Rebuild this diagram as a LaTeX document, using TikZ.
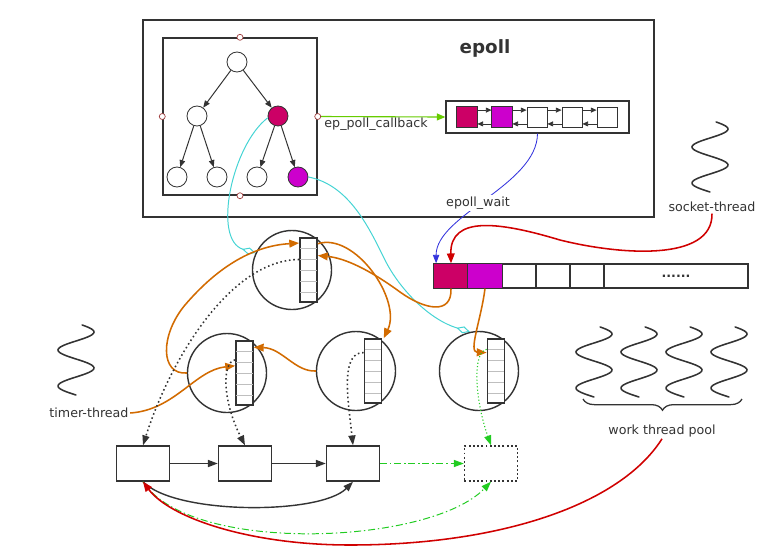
\documentclass[tikz,border=0pt]{standalone}
\usepackage{fontspec}
\setmainfont{DejaVu Sans}
\usetikzlibrary{arrows.meta,calc,decorations.pathreplacing}

\definecolor{ink}{HTML}{333333}
\definecolor{crim}{HTML}{CC0066}
\definecolor{mag}{HTML}{CC00CC}
\definecolor{orng}{HTML}{D26B00}
\definecolor{dred}{HTML}{D00000}
\definecolor{cbg}{HTML}{66CC00}
\definecolor{ltg}{HTML}{22CC22}
\definecolor{cyn}{HTML}{44D4D4}
\definecolor{blu}{HTML}{3333DD}
\definecolor{hdl}{HTML}{A04040}

\tikzset{
  treenode/.style={circle,draw=ink,line width=0.6pt,minimum size=0.5cm,inner sep=0pt,fill=white},
  handle/.style={circle,draw=hdl,fill=white,line width=0.5pt,minimum size=0.15cm,inner sep=0pt},
  rcell/.style={rectangle,draw=ink,line width=0.6pt,minimum size=0.5cm,inner sep=0pt},
  qcell/.style={rectangle,draw=ink,line width=1pt,minimum width=0.85cm,minimum height=0.6cm,inner sep=0pt},
  conn/.style={circle,draw=ink,line width=1pt,minimum size=1.975cm,inner sep=0pt},
  buf/.style={rectangle,draw=ink,line width=1.2pt,minimum width=0.425cm,minimum height=1.6cm,inner sep=0pt,fill=white},
  task/.style={rectangle,draw=ink,line width=1pt,minimum width=1.325cm,minimum height=0.875cm,inner sep=0pt},
  lbl/.style={text=ink,font=\fontsize{9}{10}\selectfont,inner sep=1pt},
  tarr/.style={ink,line width=0.7pt,-{Triangle[length=5pt,width=4pt]}},
  lk/.style={ink,line width=0.5pt,-{Triangle[length=4pt,width=3.5pt]}},
  oarr/.style={orng,line width=1.1pt,-{Triangle[length=7pt,width=5.5pt]}},
  karr/.style={ink,line width=1pt,-{Triangle[length=7pt,width=5pt]}},
  dots/.style={ink,line width=1.1pt,dash pattern=on 1.1pt off 2pt,-{Triangle[length=7pt,width=5pt]}},
  gdots/.style={ltg,line width=0.8pt,dash pattern=on 0.8pt off 1.6pt,-{Triangle[length=7pt,width=5pt]}},
  gdash/.style={ltg,line width=0.7pt,dash pattern=on 5pt off 2pt on 1pt off 2pt,-{Triangle[length=7pt,width=5pt]}},
  rarr/.style={dred,line width=1.1pt,-{Triangle[length=7pt,width=5.5pt]}},
  cyanline/.style={cyn,line width=0.7pt,-{Diamond[open,length=10pt,width=5pt]}},
  wave/.style={ink,line width=1.1pt,line cap=round}
}
\newcommand{\wavethread}[2]{\draw[wave] plot[variable=\t,domain=0:70,samples=60,smooth] ({#1+18*cos(10*(\t-7))},{#2+\t});}

\begin{document}
\begin{tikzpicture}[x=0.025cm,y=-0.025cm]
  \fill[white] (0,0) rectangle (759,549);
  \useasboundingbox (0,0) rectangle (759,549);

  \node[draw=ink,line width=1pt,minimum width=12.775cm,minimum height=4.925cm] (ep) at (398.5,118.5) {};
  \node[text=ink,font=\bfseries\fontsize{13}{15}\selectfont] (eplbl) at (485,48) {epoll};

  \node[draw=ink,line width=1pt,minimum width=3.85cm,minimum height=3.925cm] (tbox) at (240,116.5) {};
  \node[treenode] (rt) at (237,62) {};
  \node[treenode] (l1) at (197,116) {};
  \node[treenode,fill=crim] (l2) at (278,116) {};
  \node[treenode] (m1) at (177,177) {};
  \node[treenode] (m2) at (217,177) {};
  \node[treenode] (m3) at (257,177) {};
  \node[treenode,fill=mag] (m4) at (298,177) {};
  \foreach \p/\c in {rt/l1,rt/l2,l1/m1,l1/m2,l2/m3,l2/m4} \draw[tarr] (\p) -- (\c);

  \node[draw=ink,line width=1pt,minimum width=4.575cm,minimum height=0.8cm] (rbox) at (537.5,117) {};
  \foreach \i in {1,...,5} \node[rcell] (r\i) at ({467+35*(\i-1)},117) {};
  \path[fill=crim,draw=ink,line width=0.6pt] (r1.north west) rectangle (r1.south east);
  \path[fill=mag,draw=ink,line width=0.6pt] (r2.north west) rectangle (r2.south east);
  \foreach \i/\j in {1/2,2/3,3/4,4/5} {
    \draw[lk] ([yshift=-2.5pt]r\i.north east) -- ([yshift=-2.5pt]r\j.north west);
    \draw[lk] ([yshift=2.5pt]r\j.south west) -- ([yshift=2.5pt]r\i.south east);
  }

  \draw[cbg,line width=0.8pt,-{Triangle[length=6pt,width=5pt]}] (tbox.east) -- (rbox.west);
  \node[lbl] (cblbl) at (376,124) {ep\_poll\_callback};
  \foreach \a in {north,south,east,west} \node[handle] at (tbox.\a) {};

  \foreach \i in {1,...,5} \node[qcell] (q\i) at ({451+34*(\i-1)},276) {};
  \path[fill=crim,draw=ink,line width=1pt] (q1.north west) rectangle (q1.south east);
  \path[fill=mag,draw=ink,line width=1pt] (q2.north west) rectangle (q2.south east);
  \node[qcell,minimum width=3.6cm,font=\bfseries\fontsize{9}{10}\selectfont,text=ink] (qd) at (676,276) {......};

  \draw[blu,line width=0.6pt,-{Triangle[length=6pt,width=4.5pt]}] (rbox.south) .. controls (537,185) and (436,215) .. ([xshift=2pt]q1.north west);
  \node[lbl,fill=white] (wlbl) at (478,203) {epoll\_wait};

  \wavethread{710}{122}
  \node[lbl] (sock) at (712,207) {socket-thread};
  \draw[rarr] (sock.south) .. controls (713,262) and (620,255) .. (560,240) .. controls (500,222) and (450,215) .. (q1.north);

  \node[conn] (cA) at (292,270) {};
  \node[conn] (cB) at (227,373) {};
  \node[conn] (cC) at (356,371) {};
  \node[conn] (cD) at (479,371) {};
  \node[buf] (fA) at (308.5,270) {};
  \node[buf] (fB) at (244.5,373) {};
  \node[buf] (fC) at (373,371) {};
  \node[buf] (fD) at (496,371) {};
  \foreach \b in {fA,fB,fC,fD} \foreach \k in {1,...,5}
    \draw[black!25,line width=0.5pt] ($(\b.north west)!\k/6!(\b.south west)+(1,0)$) -- ($(\b.north east)!\k/6!(\b.south east)+(-1,0)$);

  \draw[cyanline] (l2.190) .. controls (232,145) and (212,240) .. (cA.155);
  \draw[cyanline] (m4.east) .. controls (350,185) and (370,230) .. (385,260) .. controls (400,290) and (430,320) .. (cD.103);

  \wavethread{76}{325}
  \node[lbl] (timer) at (89,413) {timer-thread};
  \foreach \cx in {594,639,684,729} {\wavethread{\cx}{327}}
  \draw[ink,line width=0.9pt,decorate,decoration={brace,mirror,amplitude=8pt}] (583,399) -- (742,399);
  \node[lbl] (pool) at (662,431) {work thread pool};

  \node[task] (k1) at (143,463.5) {};
  \node[task] (k2) at (245,463.5) {};
  \node[task] (k3) at (353,463.5) {};
  \node[task,draw=ink,dash pattern=on 1.3pt off 1.7pt] (k4) at (491,463.5) {};

  \draw[oarr] (q1.south) .. controls (452,315) and (425,310) .. (400,292) .. controls (370,270) and (345,258) .. ($(fA.north east)!0.28!(fA.south east)$);
  \draw[oarr] (q2.south) .. controls (481,320) and (468,352) .. ($(fD.north west)!0.22!(fD.south west)$);
  \draw[oarr] ($(fA.north east)!0.1!(fA.south east)$) .. controls (355,232) and (402,300) .. ([xshift=1pt]fC.north east);
  \draw[oarr] (cC.west) .. controls (295,372) and (282,348) .. ($(fB.north east)!0.11!(fB.south east)$);
  \draw[oarr] (cB.west) .. controls (160,375) and (160,335) .. (185,305) .. controls (215,270) and (250,246) .. ($(fA.north west)!0.09!(fA.south west)$);
  \draw[oarr] (timer.east) .. controls (175,410) and (195,370) .. ($(fB.north west)!0.39!(fB.south west)$);

  \draw[dots] ($(fA.north west)!0.34!(fA.south west)$) .. controls (230,260) and (170,360) .. (k1.north);
  \draw[dots] ($(fB.north west)!0.3!(fB.south west)$) .. controls (222,362) and (222,400) .. (k2.north);
  \draw[dots] ($(fC.north west)!0.22!(fC.south west)$) .. controls (340,352) and (348,400) .. (k3.north);
  \draw[gdots] ($(fD.north west)!0.17!(fD.south west)$) .. controls (472,352) and (475,400) .. (k4.north);

  \draw[karr] (k1) -- (k2);
  \draw[karr] (k2) -- (k3);
  \draw[gdash] (k3) -- (k4);
  \draw[karr] (k1.south) .. controls (175,515) and (320,515) .. (k3.south);
  \draw[gdash] (k1.south) .. controls (190,555) and (430,545) .. (k4.south);
  \draw[rarr] (pool.south) .. controls (620,505) and (500,545) .. (350,545) .. controls (250,545) and (170,518) .. (k1.south);
\end{tikzpicture}
\end{document}
